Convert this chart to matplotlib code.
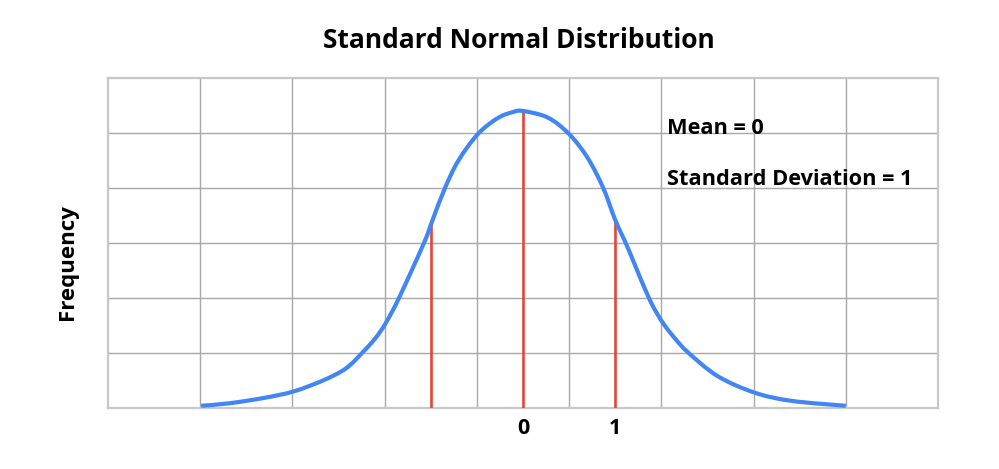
import numpy as np
import matplotlib
matplotlib.use("Agg")
import matplotlib.pyplot as plt
from matplotlib.path import Path
from matplotlib.patches import PathPatch

# curve (x in standard deviations, y in grid units)
curve_x = [-3.49, -3.19, -2.82, -2.49, -2.17, -1.92, -1.74, -1.60, -1.49, -1.345,
           -1.074, -0.98, -0.846, -0.70, -0.49, -0.275, -0.11, 0.0,
           0.27, 0.50, 0.70, 0.87, 1.0, 1.14, 1.28, 1.40, 1.52, 1.65, 1.79,
           2.11, 2.51, 2.91, 3.50]
curve_y = [0.04, 0.085, 0.18, 0.30, 0.50, 0.72, 1.01, 1.27, 1.54, 2.0,
           3.0, 3.42, 4.0, 4.50, 4.98, 5.27, 5.38, 5.40,
           5.28, 4.98, 4.55, 4.0, 3.42, 2.90, 2.33, 1.88, 1.54, 1.26, 1.01,
           0.58, 0.28, 0.13, 0.04]

marker_x = [-1, 0, 1]
marker_y = [3.42, 5.40, 3.42]

tick_pos = [0, 1]
tick_labels = ["0", "1"]

title = "Standard Normal Distribution"
notes = ["Mean = 0", "Standard Deviation = 1"]


def smooth_path(xs, ys):
    # cubic bezier segments through the points (catmull-rom tangents)
    pts = np.column_stack([xs, ys])
    n = len(pts)
    verts = [pts[0]]
    codes = [Path.MOVETO]
    for i in range(n - 1):
        p0 = pts[max(i - 1, 0)]
        p1 = pts[i]
        p2 = pts[i + 1]
        p3 = pts[min(i + 2, n - 1)]
        verts += [p1 + (p2 - p0) / 6, p2 - (p3 - p1) / 6, p2]
        codes += [Path.CURVE4] * 3
    return Path(verts, codes)


plt.rcParams['font.family'] = ['Open Sans', 'DejaVu Sans']

fig = plt.figure(figsize=(9.99, 4.69), dpi=100)
ax = fig.add_axes([108 / 999, 61 / 469, 830 / 999, 330 / 469])

ax.set_xlim(-4.5, 4.5)
ax.set_ylim(0, 6)

# grid
ax.set_xticks(np.arange(-3.5, 4.0, 1.0), minor=True)
ax.set_yticks(np.arange(1, 6, 1), minor=True)
ax.set_yticks([])
ax.set_xticks(tick_pos)
ax.set_xticklabels(tick_labels, fontsize=15.5, fontweight='bold')
ax.tick_params(axis='x', which='both', length=0, pad=7)
ax.tick_params(axis='y', which='both', length=0)
ax.grid(which='minor', color='#a8a8a8', linewidth=1.0)
ax.set_axisbelow(True)
for s in ax.spines.values():
    s.set_color('#c8c8c8')
    s.set_linewidth(1.6)

ax.vlines(marker_x, 0, marker_y, color='#e2463a', linewidth=1.9, zorder=3)
ax.add_patch(PathPatch(smooth_path(curve_x, curve_y), facecolor='none',
                       edgecolor='#4286f4', linewidth=3.0, capstyle='butt', zorder=4))

ax.text(1.56, 5.09, notes[0], fontsize=15.7, fontweight='bold', va='center', ha='left')
ax.text(1.56, 4.15, notes[1], fontsize=15.7, fontweight='bold', va='center', ha='left')

fig.text(519 / 999, 1 - 41 / 469, title, fontsize=19, fontweight='bold', ha='center', va='center')
fig.text(67 / 999, 1 - 262 / 469, "Frequency", fontsize=16, fontweight='bold',
         rotation=90, ha='center', va='center')

fig.savefig("out.png", dpi=100)
